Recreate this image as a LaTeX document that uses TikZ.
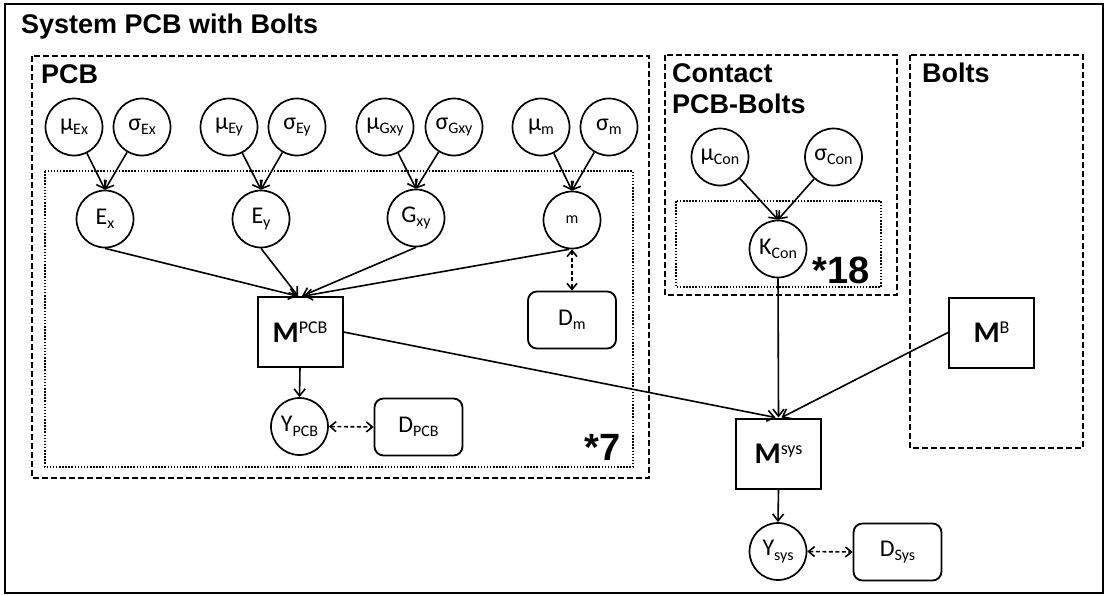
\documentclass[tikz,border=0pt]{standalone}
\usepackage{fontspec}
\setmainfont{Carlito}
\newfontfamily\labfont{Liberation Sans}
\usetikzlibrary{arrows.meta}
\newcommand\lsub[1]{\raisebox{-4.5pt}{\fontsize{16}{16}\selectfont #1}}
\newcommand\lsup[1]{\raisebox{9pt}{\fontsize{18}{18}\selectfont #1}}
\begin{document}
\begin{tikzpicture}[x=1pt,y=-1pt,
  var/.style={circle,draw,line width=1.7pt,minimum size=57pt,inner sep=0pt,font=\fontsize{24}{24}\selectfont},
  model/.style={rectangle,draw,line width=2pt,minimum width=85pt,minimum height=70pt,inner sep=0pt,font=\fontsize{30}{30}\selectfont},
  data/.style={rectangle,rounded corners=9pt,draw,line width=1.8pt,minimum width=88pt,minimum height=57pt,inner sep=0pt,font=\fontsize{24}{24}\selectfont},
  plate/.style={draw,line width=1.9pt,dash pattern=on 6pt off 3pt},
  rep/.style={draw,line width=1.6pt,dash pattern=on 1.5pt off 1.6pt},
  lab/.style={font=\labfont\bfseries\fontsize{27}{31}\selectfont,inner sep=0pt,anchor=base west},
  big/.style={font=\labfont\bfseries\fontsize{38}{38}\selectfont,inner sep=0pt,anchor=base east},
  arr/.style={line width=1.6pt,-{Straight Barb[length=7pt,width=11pt,line width=1.6pt]}},
  darr/.style={line width=1.6pt,dash pattern=on 4pt off 2.5pt,{Straight Barb[length=6pt,width=10pt,line width=1.6pt]}-{Straight Barb[length=6pt,width=10pt,line width=1.6pt]}}
]
\useasboundingbox (0,0) rectangle (1105,595);
\draw[line width=1.6pt] (5,4) rectangle (1103,593);
\node[lab] (title) at (21,33) {System PCB with Bolts};

% plates
\draw[plate] (32,56) rectangle (649,478);
\draw[rep] (45,171) rectangle (633,467);
\draw[plate] (665,55) rectangle (897,295);
\draw[rep] (676,201) rectangle (881,287);
\draw[plate] (910,55) rectangle (1083,448);

\node[lab] (pcblab) at (41,83) {PCB};
\node[lab] (conlab1) at (672,82) {Contact};
\node[lab] (conlab2) at (672,113) {PCB-Bolts};
\node[lab] (boltlab) at (922,82) {Bolts};
\node[big] (n7) at (621,460) {*7};
\node[big] (n18) at (870,283) {*18};

% hyperparameters
\node[var] (muEx) at (74,127) {μ\lsub{Ex}};
\node[var] (sigEx) at (142,127) {σ\lsub{Ex}};
\node[var] (muEy) at (229,127) {μ\lsub{Ey}};
\node[var] (sigEy) at (297,127) {σ\lsub{Ey}};
\node[var] (muG) at (385,127) {μ\lsub{Gxy}};
\node[var] (sigG) at (454,127) {σ\lsub{Gxy}};
\node[var] (mum) at (541,127) {μ\lsub{m}};
\node[var] (sigm) at (609,127) {σ\lsub{m}};

\node[var] (Ex) at (105,219) {E\lsub{x}};
\node[var] (Ey) at (261,219) {E\lsub{y}};
\node[var] (Gxy) at (416,218) {G\lsub{xy}};
\node[var] (m) at (572,220) {\lsub{m}};

\node[model] (Mpcb) at (300,332) {\textbf{M}\lsup{PCB}};
\node[data] (Dm) at (572,320) {D\lsub{m}};
\node[var] (Ypcb) at (299.5,426.5) {Y\lsub{PCB}};
\node[data] (Dpcb) at (418.5,427) {D\lsub{PCB}};

\node[var] (muCon) at (720,157) {μ\lsub{Con}};
\node[var] (sigCon) at (833.5,157) {σ\lsub{Con}};
\node[var] (Kcon) at (778,249) {K\lsub{Con}};

\node[model] (MB) at (991.5,332.5) {\textbf{M}\lsup{B}};
\node[model] (Msys) at (778.5,453.5) {\textbf{M}\lsup{sys}};
\node[var] (Ysys) at (778,551.5) {Y\lsub{sys}};
\node[data] (Dsys) at (897.5,552) {D\lsub{Sys}};

% connectors
\draw[arr] (muEx) -- (Ex.north);
\draw[arr] (sigEx) -- (Ex.north);
\draw[arr] (muEy) -- (Ey.north);
\draw[arr] (sigEy) -- (Ey.north);
\draw[arr] (muG) -- (Gxy.north);
\draw[arr] (sigG) -- (Gxy.north);
\draw[arr] (mum) -- (m.north);
\draw[arr] (sigm) -- (m.north);

\draw[arr] (Ex.south) -- ([xshift=-3pt]Mpcb.north);
\draw[arr] (Ey.south) -- ([xshift=-2pt]Mpcb.north);
\draw[arr] (Gxy.south) -- ([xshift=2pt]Mpcb.north);
\draw[arr] ([xshift=-3pt]m.south) -- ([xshift=4pt]Mpcb.north);
\draw[darr] (m.south) -- (Dm.north);
\draw[arr] (Mpcb.south) -- (Ypcb.north);
\draw[darr] (Ypcb.east) -- (Dpcb.west);

\draw[arr] (muCon) -- (Kcon.north);
\draw[arr] (sigCon) -- (Kcon.north);
\draw[arr] (Kcon.south) -- (Msys.north);
\draw[arr] (Mpcb.east) -- ([xshift=-3pt]Msys.north);
\draw[arr] (MB.west) -- ([xshift=3pt]Msys.north);
\draw[arr] (Msys.south) -- (Ysys.north);
\draw[darr] (Ysys.east) -- (Dsys.west);
\end{tikzpicture}
\end{document}
